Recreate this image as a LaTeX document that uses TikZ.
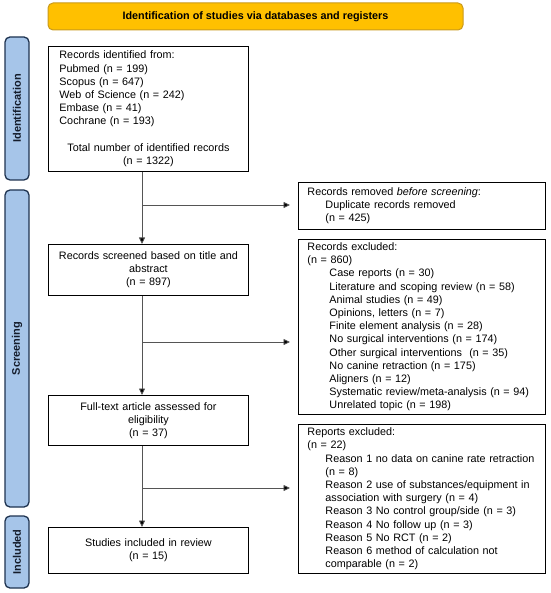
\documentclass[tikz,border=0pt]{standalone}
\usepackage{fontspec}
\setmainfont{Liberation Sans}
\usetikzlibrary{arrows.meta,calc}
\definecolor{bannerfill}{HTML}{FFC000}
\definecolor{bannerdraw}{HTML}{C99A1C}
\definecolor{sidefill}{HTML}{A6C5E9}
\definecolor{sidedraw}{HTML}{1E3350}
\definecolor{sidetext}{HTML}{141C2B}
\definecolor{arrowgray}{HTML}{555555}
\begin{document}
\begin{tikzpicture}[x=1pt,y=-1pt,
  txt/.style={font=\fontsize{10.8}{13.2}\selectfont},
  box/.style={txt,draw=black,line width=0.9pt,anchor=north west,inner ysep=0pt},
  cbox/.style={box,inner xsep=6pt,text width=188pt,align=center},
  lbox/.style={box,inner xsep=9pt,text width=229pt,align=left},
  banner/.style={draw=bannerdraw,fill=bannerfill,line width=1pt,rounded corners=5pt,
    font=\fontsize{10.8}{13}\selectfont\bfseries,inner sep=0pt},
  side/.style={draw=sidedraw,fill=sidefill,line width=1.3pt,rounded corners=5pt,
    rotate=90,inner sep=0pt,text=sidetext,font=\fontsize{11}{13}\selectfont\bfseries},
  arr/.style={draw=arrowgray,line width=0.8pt,-{Triangle[length=6.5pt,width=6pt,fill=black]}},
  ln/.style={draw=arrowgray,line width=0.8pt}
]
\useasboundingbox (0,0) rectangle (550,593);

% banner and phase labels
\node[banner,minimum width=415pt,minimum height=27pt] (ban) at (255.5,16.5)
  {Identification of studies via databases and registers};
\node[side,minimum width=143pt,minimum height=24pt] (sidA) at (17,108.5) {Identification};
\node[side,minimum width=317pt,minimum height=24pt] (sidB) at (17,348.5) {Screening};
\node[side,minimum width=72pt,minimum height=24pt] (sidC) at (17,552) {Included};

% left column
\node[box,inner xsep=11pt,text width=178pt,minimum height=125pt] (ident) at (48,46)
  {\raggedright Records identified from:\\
   Pubmed (n = 199)\\
   Scopus (n = 647)\\
   Web of Science (n = 242)\\
   Embase (n = 41)\\
   Cochrane (n = 193)\par
   \vspace{13.2pt}
   \centering Total number of identified records\\
   (n = 1322)\par};
\node[cbox,minimum height=51pt] (scr) at (48,244)
  {Records screened based on title and\\ abstract\\ (n = 897)};
\node[cbox,minimum height=50pt] (full) at (48,395)
  {Full-text article assessed for\\ eligibility\\ (n = 37)};
\node[cbox,minimum height=46pt] (incl) at (48,527)
  {Studies included in review\\ (n = 15)};

% right column
\node[lbox,minimum height=47pt] (rem) at (298,182)
  {Records removed \textit{before screening}:\\
   \hspace*{18pt}Duplicate records removed\\
   \hspace*{18pt}(n = 425)};
\node[lbox,minimum height=175pt] (exc) at (298,239)
  {Records excluded:\\
   (n = 860)\\
   \hspace*{22pt}Case reports (n = 30)\\
   \hspace*{22pt}Literature and scoping review (n = 58)\\
   \hspace*{22pt}Animal studies (n = 49)\\
   \hspace*{22pt}Opinions, letters (n = 7)\\
   \hspace*{22pt}Finite element analysis (n = 28)\\
   \hspace*{22pt}No surgical interventions (n = 174)\\
   \hspace*{22pt}Other surgical interventions \ (n = 35)\\
   \hspace*{22pt}No canine retraction (n = 175)\\
   \hspace*{22pt}Aligners (n = 12)\\
   \hspace*{22pt}Systematic review/meta-analysis (n = 94)\\
   \hspace*{22pt}Unrelated topic (n = 198)};
\node[lbox,minimum height=149pt] (rep) at (298,424)
  {Reports excluded:\\
   (n = 22)\\
   \hspace*{18pt}Reason 1 no data on canine rate retraction\\
   \hspace*{18pt}(n = 8)\\
   \hspace*{18pt}Reason 2 use of substances/equipment in\\
   \hspace*{18pt}association with surgery (n = 4)\\
   \hspace*{18pt}Reason 3 No control group/side (n = 3)\\
   \hspace*{18pt}Reason 4 No follow up (n = 3)\\
   \hspace*{18pt}Reason 5 No RCT (n = 2)\\
   \hspace*{18pt}Reason 6 method of calculation not\\
   \hspace*{18pt}comparable (n = 2)};

% connectors
\coordinate (spine) at (142,0);
\coordinate (b1) at (142,205);
\coordinate (b2) at (142,342);
\coordinate (b3) at (142,488);
\draw[arr] (ident.south -| spine) -- (scr.north -| spine);
\draw[arr] (scr.south -| spine) -- (full.north -| spine);
\draw[arr] (full.south -| spine) -- (incl.north -| spine);
\draw[arr,shorten >=8pt] (b1) -- (b1 -| rem.west);
\draw[arr,shorten >=8pt] (b2) -- (b2 -| exc.west);
\draw[arr,shorten >=8pt] (b3) -- (b3 -| rep.west);
\end{tikzpicture}
\end{document}
